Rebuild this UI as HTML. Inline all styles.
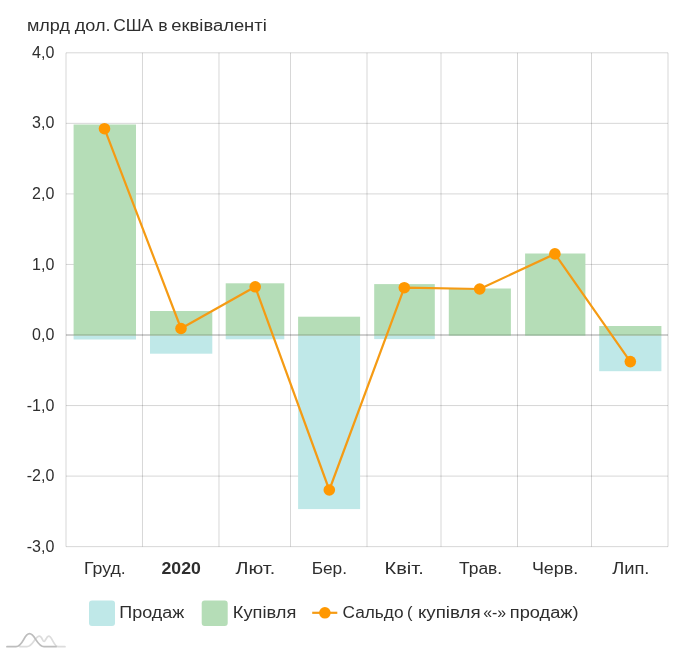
<!DOCTYPE html>
<html><head><meta charset="utf-8"><title>chart</title>
<style>
html,body{margin:0;padding:0;background:#fff;}
body{width:690px;height:653px;overflow:hidden;}
svg{display:block;}
text{font-family:"Liberation Sans",sans-serif;fill:#2e2e2e;}
svg{will-change:transform;opacity:0.999;}
</style></head><body>
<svg width="690" height="653" viewBox="0 0 690 653">
<rect width="690" height="653" fill="#fff"/>
<g stroke="#000" stroke-opacity="0.16" stroke-width="1">
<line x1="66.00" y1="52.80" x2="66.00" y2="546.65"/>
<line x1="142.48" y1="52.80" x2="142.48" y2="546.65"/>
<line x1="218.97" y1="52.80" x2="218.97" y2="546.65"/>
<line x1="290.52" y1="52.80" x2="290.52" y2="546.65"/>
<line x1="367.00" y1="52.80" x2="367.00" y2="546.65"/>
<line x1="441.00" y1="52.80" x2="441.00" y2="546.65"/>
<line x1="517.50" y1="52.80" x2="517.50" y2="546.65"/>
<line x1="591.50" y1="52.80" x2="591.50" y2="546.65"/>
<line x1="668.00" y1="52.80" x2="668.00" y2="546.65"/>
<line x1="66.00" y1="52.80" x2="668.00" y2="52.80"/>
<line x1="66.00" y1="123.35" x2="668.00" y2="123.35"/>
<line x1="66.00" y1="193.90" x2="668.00" y2="193.90"/>
<line x1="66.00" y1="264.45" x2="668.00" y2="264.45"/>
<line x1="66.00" y1="335.00" x2="668.00" y2="335.00"/>
<line x1="66.00" y1="405.55" x2="668.00" y2="405.55"/>
<line x1="66.00" y1="476.10" x2="668.00" y2="476.10"/>
<line x1="66.00" y1="546.65" x2="668.00" y2="546.65"/>
</g>
<rect x="73.60" y="335.60" width="62.40" height="3.90" fill="#bfe8e8"/>
<rect x="73.60" y="124.50" width="62.40" height="211.10" fill="#b5ddb7"/>
<rect x="150.00" y="335.60" width="62.30" height="18.10" fill="#bfe8e8"/>
<rect x="150.00" y="311.00" width="62.30" height="24.60" fill="#b5ddb7"/>
<rect x="225.70" y="335.60" width="58.60" height="3.70" fill="#bfe8e8"/>
<rect x="225.70" y="283.30" width="58.60" height="52.30" fill="#b5ddb7"/>
<rect x="298.10" y="335.60" width="62.00" height="173.50" fill="#bfe8e8"/>
<rect x="298.10" y="316.70" width="62.00" height="18.90" fill="#b5ddb7"/>
<rect x="374.20" y="335.60" width="60.60" height="3.50" fill="#bfe8e8"/>
<rect x="374.20" y="284.10" width="60.60" height="51.50" fill="#b5ddb7"/>
<rect x="448.80" y="335.60" width="62.10" height="0.10" fill="#bfe8e8"/>
<rect x="448.80" y="288.50" width="62.10" height="47.10" fill="#b5ddb7"/>
<rect x="525.10" y="335.60" width="60.30" height="0.10" fill="#bfe8e8"/>
<rect x="525.10" y="253.50" width="60.30" height="82.10" fill="#b5ddb7"/>
<rect x="599.20" y="335.60" width="62.20" height="35.60" fill="#bfe8e8"/>
<rect x="599.20" y="326.00" width="62.20" height="9.60" fill="#b5ddb7"/>
<line x1="66.00" y1="335.00" x2="668.00" y2="335.00" stroke="#000" stroke-opacity="0.24" stroke-width="1"/>
<polyline fill="none" stroke="#f59b14" stroke-width="2.2" stroke-linejoin="round" points="104.5,128.7 181.0,328.5 255.2,286.8 329.3,490.0 404.3,287.7 479.7,289.0 554.9,253.9 630.3,361.6"/>
<circle cx="104.5" cy="128.7" r="5.8" fill="#ff9800"/>
<circle cx="181.0" cy="328.5" r="5.8" fill="#ff9800"/>
<circle cx="255.2" cy="286.8" r="5.8" fill="#ff9800"/>
<circle cx="329.3" cy="490.0" r="5.8" fill="#ff9800"/>
<circle cx="404.3" cy="287.7" r="5.8" fill="#ff9800"/>
<circle cx="479.7" cy="289.0" r="5.8" fill="#ff9800"/>
<circle cx="554.9" cy="253.9" r="5.8" fill="#ff9800"/>
<circle cx="630.3" cy="361.6" r="5.8" fill="#ff9800"/>
<g id="txt">
<text x="54.3" y="57.90" font-size="16" text-anchor="end">4,0</text>
<text x="54.3" y="128.45" font-size="16" text-anchor="end">3,0</text>
<text x="54.3" y="199.00" font-size="16" text-anchor="end">2,0</text>
<text x="54.3" y="269.55" font-size="16" text-anchor="end">1,0</text>
<text x="54.3" y="340.10" font-size="16" text-anchor="end">0,0</text>
<text x="54.3" y="410.65" font-size="16" text-anchor="end">-1,0</text>
<text x="54.3" y="481.20" font-size="16" text-anchor="end">-2,0</text>
<text x="54.3" y="551.75" font-size="16" text-anchor="end">-3,0</text>
<rect x="89" y="600.5" width="26" height="25.5" rx="3" fill="#bfe8e8"/>
<rect x="201.7" y="600.5" width="26" height="25.5" rx="3" fill="#b5ddb7"/>
<line x1="312.2" y1="612.8" x2="337.3" y2="612.8" stroke="#f59b14" stroke-width="2.2"/>
<circle cx="324.9" cy="612.8" r="5.8" fill="#ff9800"/>
<text x="26.98" y="30.50" font-size="16" textLength="42.95" lengthAdjust="spacingAndGlyphs">млрд</text>
<text x="74.80" y="30.50" font-size="16" textLength="35.72" lengthAdjust="spacingAndGlyphs">дол.</text>
<text x="113.19" y="30.50" font-size="16" textLength="39.96" lengthAdjust="spacingAndGlyphs">США</text>
<text x="158.20" y="30.50" font-size="16" textLength="9.39" lengthAdjust="spacingAndGlyphs">в</text>
<text x="171.35" y="30.50" font-size="16" textLength="95.41" lengthAdjust="spacingAndGlyphs">еквіваленті</text>
<text x="83.93" y="573.80" font-size="16" textLength="41.72" lengthAdjust="spacingAndGlyphs">Груд.</text>
<text x="161.56" y="573.80" font-size="16" textLength="39.29" lengthAdjust="spacingAndGlyphs" font-weight="bold">2020</text>
<text x="235.50" y="573.80" font-size="16" textLength="39.66" lengthAdjust="spacingAndGlyphs">Лют.</text>
<text x="311.66" y="573.80" font-size="16" textLength="35.36" lengthAdjust="spacingAndGlyphs">Бер.</text>
<text x="384.47" y="573.80" font-size="16" textLength="39.35" lengthAdjust="spacingAndGlyphs">Квіт.</text>
<text x="459.10" y="573.80" font-size="16" textLength="43.10" lengthAdjust="spacingAndGlyphs">Трав.</text>
<text x="531.95" y="573.80" font-size="16" textLength="46.32" lengthAdjust="spacingAndGlyphs">Черв.</text>
<text x="612.20" y="573.80" font-size="16" textLength="37.27" lengthAdjust="spacingAndGlyphs">Лип.</text>
<text x="119.31" y="617.70" font-size="16" textLength="64.90" lengthAdjust="spacingAndGlyphs">Продаж</text>
<text x="232.89" y="617.70" font-size="16" textLength="63.41" lengthAdjust="spacingAndGlyphs">Купівля</text>
<text x="342.59" y="617.70" font-size="16" textLength="60.93" lengthAdjust="spacingAndGlyphs">Сальдо</text>
<text x="406.94" y="617.70" font-size="16" textLength="5.49" lengthAdjust="spacingAndGlyphs">(</text>
<text x="417.93" y="617.70" font-size="16" textLength="62.66" lengthAdjust="spacingAndGlyphs">купівля</text>
<text x="483.15" y="617.70" font-size="16" textLength="22.96" lengthAdjust="spacingAndGlyphs">«-»</text>
<text x="509.86" y="617.70" font-size="16" textLength="68.67" lengthAdjust="spacingAndGlyphs">продаж)</text>
</g>
<g fill="none" stroke-width="1.6" stroke-linecap="round" stroke-linejoin="round">
<path d="M20,646.7 H27 C33,646.7 35,636.2 39.4,636.2 C42,636.2 42.5,641.5 44,641.5 C45.5,641.5 46.5,636.2 48.7,636.2 C52,636.2 54,646.7 58,646.7 H65" stroke="#dcdcdc" stroke-width="1.7"/>
<path d="M7,646.7 H16 C23,646.7 24,633.7 29.5,633.7 C35,633.7 37,646.7 44,646.7 H56" stroke="#bdbdbd" stroke-width="1.8"/>
</g>
</svg>
</body></html>
